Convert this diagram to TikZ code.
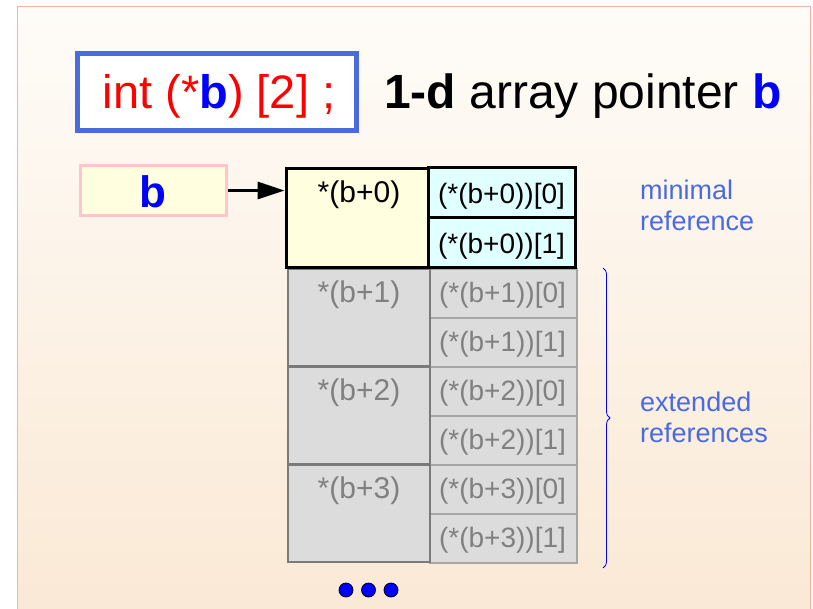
\documentclass[tikz,border=0pt]{standalone}
\usepackage{fontspec}
\setmainfont{Liberation Sans}
\usetikzlibrary{arrows.meta,decorations.pathreplacing}
\definecolor{panelTop}{HTML}{FEFCF8}
\definecolor{panelBot}{HTML}{FAE8D4}
\definecolor{panelEdge}{HTML}{F3B29C}
\definecolor{declBlue}{HTML}{4A6BE0}
\definecolor{noteBlue}{HTML}{4A6BE0}
\definecolor{cellYellow}{HTML}{FFFFE0}
\definecolor{cellCyan}{HTML}{E0FFFF}
\definecolor{cellGray}{HTML}{DCDCDC}
\definecolor{grayEdge}{HTML}{A6A6A6}
\definecolor{grayDark}{HTML}{7A7A7A}
\definecolor{grayText}{HTML}{808080}
\definecolor{pinkEdge}{HTML}{FFC4CC}
\tikzset{
  fs/.style={font=\fontsize{#1}{#1}\selectfont},
  cellbig/.style={draw=black, line width=3pt, fill=cellYellow, minimum width=142pt, minimum height=99pt, inner sep=0pt},
  cellsmall/.style={draw=black, line width=3pt, fill=cellCyan, minimum width=147pt, minimum height=50pt, inner sep=0pt, fs=28},
  graybig/.style={draw=grayDark, line width=2pt, fill=cellGray, minimum width=142pt, minimum height=97pt, inner sep=0pt},
  graysmall/.style={draw=grayEdge, line width=2pt, fill=cellGray, minimum width=147pt, minimum height=49pt, inner sep=0pt, text=grayText, fs=28},
  celltxt/.style={inner sep=0pt, fs=30},
  notetxt/.style={inner sep=0pt, text=noteBlue, fs=27, align=left, anchor=north west},
  dot/.style={circle, draw=black, line width=0.8pt, fill=blue, minimum size=14pt, inner sep=0pt}
}
\begin{document}
\begin{tikzpicture}[x=1pt,y=-1pt]
\useasboundingbox (0,0) rectangle (813,608);
\clip (0,0) rectangle (813,608);
\fill[white] (0,0) rectangle (813,608);
\draw[panelEdge, line width=1pt, top color=panelTop, bottom color=panelBot] (17.5,6.5) rectangle (810.5,630);

% header
\node[draw=declBlue, line width=5pt, fill=white, minimum width=279pt, minimum height=77pt, inner sep=0pt] (decl) at (216.5,91.5) {};
\node[fs=47, text=red, anchor=base, inner sep=0pt] (decltxt) at (219,108) {int (*\textcolor{blue}{\textbf{b}}) [2] ;};
\node[fs=48, anchor=base west, inner sep=0pt] (title) at (384,108) {\textbf{1-d} array pointer \textcolor{blue}{\textbf{b}}};

% pointer b
\node[draw=pinkEdge, line width=3pt, fill=cellYellow, minimum width=146pt, minimum height=50pt, inner sep=0pt] (bbox) at (153.5,190.5) {};
\node[fs=44, text=blue, anchor=base, inner sep=0pt] (btxt) at (153,207) {\textbf{b}};

% row 0
\node[cellbig] (c0) at (357,217.5) {};
\node[cellsmall] (c00) at (501.5,192.5) {};
\node[cellsmall] (c01) at (501.5,242) {};
\node[celltxt, anchor=base] (t0) at (359,202) {*(b+0)};
\node[fs=28, inner sep=0pt, anchor=base] (t00) at (501.5,203) {(*(b+0))[0]};
\node[fs=28, inner sep=0pt, anchor=base] (t01) at (501.5,253) {(*(b+0))[1]};

% gray rows
\foreach \i/\y in {1/268, 2/366, 3/464} {
  \node[graysmall, anchor=north west] (c\i0) at (429,\y) {};
  \node[graysmall, anchor=north west] (c\i1) at (429,\y+49) {};
  \node[fs=28, inner sep=0pt, anchor=base, text=grayText] (t\i0) at (502.5,\y+34) {(*(b+\i))[0]};
  \node[fs=28, inner sep=0pt, anchor=base, text=grayText] (t\i1) at (502.5,\y+83) {(*(b+\i))[1]};
}
\foreach \i/\y in {1/268, 2/366, 3/464} {
  \node[graybig, anchor=north west] (c\i) at (287,\y) {};
  \node[celltxt, anchor=base, text=grayText] (t\i) at (359,\y+34) {*(b+\i)};
}
% redraw first row border on top
\node[cellbig, fill=none] (c0b) at (357,217.5) {};
\node[cellsmall, fill=none] (c00b) at (501.5,192.5) {};
\node[cellsmall, fill=none] (c01b) at (501.5,242) {};

% arrow
\draw[line width=3pt, -{Triangle[length=27pt,width=17pt]}] (bbox.east) -- (c0.west |- bbox.east);

% notes
\node[notetxt] (n1) at (640,180) {minimal\\[4pt]reference};
\coordinate (brtop) at (603,268);
\coordinate (brbot) at (603,568);
\draw[blue, line width=0.8pt, decorate, decoration={brace, amplitude=7pt}] (brtop) -- (brbot);
\node[notetxt] (n2) at (640,392) {extended\\[4pt]references};

% dots
\node[dot] (d1) at (346,590) {};
\node[dot] (d2) at (368.5,590) {};
\node[dot] (d3) at (391,590) {};
\end{tikzpicture}
\end{document}
